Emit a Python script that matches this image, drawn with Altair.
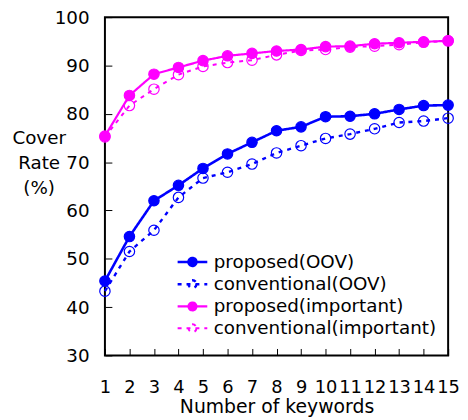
import altair as alt
import pandas as pd

keywords = list(range(1, 16))
series_names = ["proposed(OOV)", "conventional(OOV)", "proposed(important)", "conventional(important)"]
proposed_oov = [45.4, 54.6, 62.0, 65.2, 68.7, 71.7, 74.1, 76.5, 77.3, 79.4, 79.5, 80.0, 80.9, 81.7, 81.8]
conventional_oov = [43.3, 51.5, 55.9, 62.7, 66.7, 67.9, 69.6, 71.9, 73.4, 74.9, 75.8, 76.9, 78.2, 78.5, 79.1]
proposed_imp = [75.4, 83.8, 88.2, 89.6, 91.0, 92.0, 92.5, 93.0, 93.3, 93.9, 94.0, 94.5, 94.7, 94.9, 95.1]
conventional_imp = [75.2, 81.7, 85.1, 88.1, 89.8, 90.6, 91.1, 92.2, 93.1, 93.3, 93.8, 94.0, 94.3, 94.8, 95.1]
y_ticks = [30, 40, 50, 60, 70, 80, 90, 100]

colors = ["#0000ff", "#0000ff", "#ff00ff", "#ff00ff"]
fills = ["#0000ff", "transparent", "#ff00ff", "transparent"]
dashes = [[1, 0], [4, 5], [1, 0], [4, 5]]
widths = [2.6, 2.0, 2.6, 2.0]

rows = []
for name, vals in zip(series_names, [proposed_oov, conventional_oov, proposed_imp, conventional_imp]):
    for k, v in zip(keywords, vals):
        rows.append({"keywords": k, "rate": v, "series": name})
df = pd.DataFrame(rows)

FONT = "DejaVu Sans"
FS = 18.5
legend_path = "M-1.5,0H1.5M0.4,0A0.4,0.4,0,1,1,-0.4,0A0.4,0.4,0,1,1,0.4,0Z"


def leg():
    return alt.Legend(
        title=None, orient="none", legendX=77, legendY=236,
        symbolType=legend_path, symbolSize=400, symbolStrokeWidth=2,
        labelFontSize=FS, labelFont=FONT, labelColor="black", labelOffset=10,
        rowPadding=1.5, padding=0, labelLimit=400,
    )


x_enc = alt.X(
    "keywords:Q",
    scale=alt.Scale(domain=[1, 15], nice=False, zero=False),
    axis=alt.Axis(
        values=keywords, title="Number of keywords", offset=-7, tickSize=7,
        domain=False, grid=False, labelPadding=24, labelFontSize=18,
        labelFont=FONT, titleFont=FONT, titleFontSize=19, titleFontWeight="normal",
        format="d", tickColor="black", labelColor="black", titleColor="black",
        labelFlush=False, labelOverlap=False, titlePadding=1,
    ),
)
y_enc = alt.Y(
    "rate:Q",
    scale=alt.Scale(domain=[30, 100], nice=False, zero=False),
    axis=alt.Axis(
        values=y_ticks, title=["Cover", "Rate", "(%)"], titleAngle=0,
        titleAlign="center", titleBaseline="middle", titleX=-74, titleY=122,
        titleLineHeight=25, offset=-7, tickSize=7, domain=False, grid=False,
        labelPadding=16, labelFontSize=FS, labelFont=FONT, titleFont=FONT,
        titleFontSize=FS, titleFontWeight="normal", tickColor="black",
        labelColor="black", titleColor="black", labelFlush=False, labelOverlap=False,
    ),
)
color_enc = alt.Color("series:N", scale=alt.Scale(domain=series_names, range=colors), sort=series_names, legend=leg())

lines = alt.Chart(df).mark_line().encode(
    x=x_enc, y=y_enc, color=color_enc,
    strokeDash=alt.StrokeDash("series:N", scale=alt.Scale(domain=series_names, range=dashes), sort=series_names, legend=leg()),
    strokeWidth=alt.StrokeWidth("series:N", scale=alt.Scale(domain=series_names, range=widths), sort=series_names, legend=leg()),
)
points = alt.Chart(df).mark_point(shape="circle", size=110, strokeWidth=1.2, opacity=1, fillOpacity=1).encode(
    x=x_enc, y=y_enc, color=color_enc,
    fill=alt.Fill("series:N", scale=alt.Scale(domain=series_names, range=fills), sort=series_names, legend=leg()),
)

chart = alt.layer(lines, points).properties(
    width=347, height=342,
    padding={"left": 98, "top": 7, "right": 12, "bottom": 60},
    autosize=alt.AutoSizeParams(type="none"),
).configure_view(stroke="black", strokeWidth=2)

chart.save("out.html", embed_options={"renderer": "svg", "actions": False})
